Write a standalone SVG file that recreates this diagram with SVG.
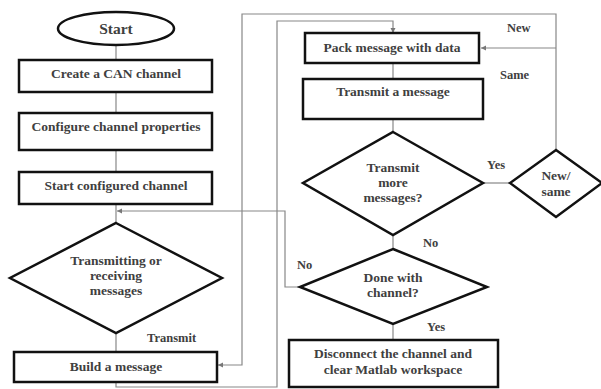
<svg xmlns="http://www.w3.org/2000/svg" width="601" height="389" viewBox="0 0 601 389">
<style>
.box{fill:#fff;stroke:#111;stroke-width:2.5}
.t{font-family:"Liberation Serif","Times New Roman",serif;font-size:13.5px;font-weight:bold;fill:#404040;text-anchor:middle}
.l{font-family:"Liberation Serif","Times New Roman",serif;font-size:12.5px;font-weight:bold;fill:#404040}
.c{fill:none;stroke:#888;stroke-width:1.2}
</style>
<defs>
<marker id="a" markerWidth="6" markerHeight="6" refX="5" refY="3" orient="auto" markerUnits="userSpaceOnUse">
<path d="M0,0.5 L5,3 L0,5.5 z" fill="#777"/>
</marker>
</defs>
<rect width="601" height="389" fill="#fff"/>
<g id="connectors">
<line class="c" x1="116" y1="45" x2="116" y2="60"/>
<line class="c" x1="116" y1="92" x2="116" y2="113"/>
<line class="c" x1="116" y1="150" x2="116" y2="172"/>
<line class="c" x1="116" y1="204" x2="116" y2="223"/>
<line class="c" x1="116" y1="333" x2="116" y2="352"/>
<polyline class="c" points="300,287 285,287 285,211 117,211" marker-end="url(#a)"/>
<polyline class="c" points="556,150 556,14 242,14 242,365 218,365" marker-end="url(#a)"/>
<polyline class="c" points="556,48 481,48" marker-end="url(#a)"/>
<polyline class="c" points="116,382 116,387 277,387 277,21 393,21 393,33" marker-end="url(#a)"/>
<line class="c" x1="393" y1="63" x2="393" y2="79"/>
<line class="c" x1="393" y1="119" x2="393" y2="132"/>
<line class="c" x1="483" y1="183" x2="510" y2="183"/>
<line class="c" x1="393" y1="235" x2="393" y2="249"/>
<line class="c" x1="393" y1="324" x2="393" y2="340"/>
<text class="l" x="147" y="342">Transmit</text>
<text class="l" x="507" y="32">New</text>
<text class="l" x="500" y="79">Same</text>
<text class="l" x="487" y="169">Yes</text>
<text class="l" x="423" y="247">No</text>
<text class="l" x="297" y="269">No</text>
<text class="l" x="427" y="331">Yes</text>
</g>
<g id="start">
<ellipse cx="116" cy="28.5" rx="58" ry="16.5" class="box"/>
<text class="t" x="116" y="34" style="font-size:15.5px">Start</text>
</g>
<g id="create">
<rect class="box" x="19" y="60" width="193" height="32"/>
<text class="t" x="116" y="78">Create a CAN channel</text>
</g>
<g id="configure">
<rect class="box" x="19" y="113" width="193" height="37"/>
<text class="t" x="116" y="131">Configure channel properties</text>
</g>
<g id="startch">
<rect class="box" x="19" y="172" width="193" height="32"/>
<text class="t" x="116" y="190">Start configured channel</text>
</g>
<g id="txrx">
<polygon class="box" points="116,223 222,278 116,333 10,278"/>
<text class="t" x="116" y="265">Transmitting  or</text>
<text class="t" x="116" y="280">receiving</text>
<text class="t" x="116" y="295">messages</text>
</g>
<g id="build">
<rect class="box" x="14" y="352" width="203" height="30"/>
<text class="t" x="116" y="371">Build a message</text>
</g>
<g id="pack">
<rect class="box" x="305" y="33" width="174" height="30"/>
<text class="t" x="392" y="52">Pack message with data</text>
</g>
<g id="transmit">
<rect class="box" x="303" y="79" width="180" height="40"/>
<text class="t" x="393" y="96">Transmit  a message</text>
</g>
<g id="more">
<polygon class="box" points="393,132 483,183 393,235 303,183"/>
<text class="t" x="393" y="172">Transmit</text>
<text class="t" x="393" y="187">more</text>
<text class="t" x="393" y="202">messages?</text>
</g>
<g id="newsame">
<polygon class="box" points="556,150 602,183 556,217 510,183"/>
<text class="t" x="556" y="180">New/</text>
<text class="t" x="556" y="196">same</text>
</g>
<g id="done">
<polygon class="box" points="393,249 487,287 393,324 300,287"/>
<text class="t" x="393" y="282">Done with</text>
<text class="t" x="393" y="297">channel?</text>
</g>
<g id="disconnect">
<rect class="box" x="289" y="340" width="209" height="47"/>
<text class="t" x="393" y="358">Disconnect the channel and</text>
<text class="t" x="393" y="374">clear Matlab workspace</text>
</g>
</svg>
